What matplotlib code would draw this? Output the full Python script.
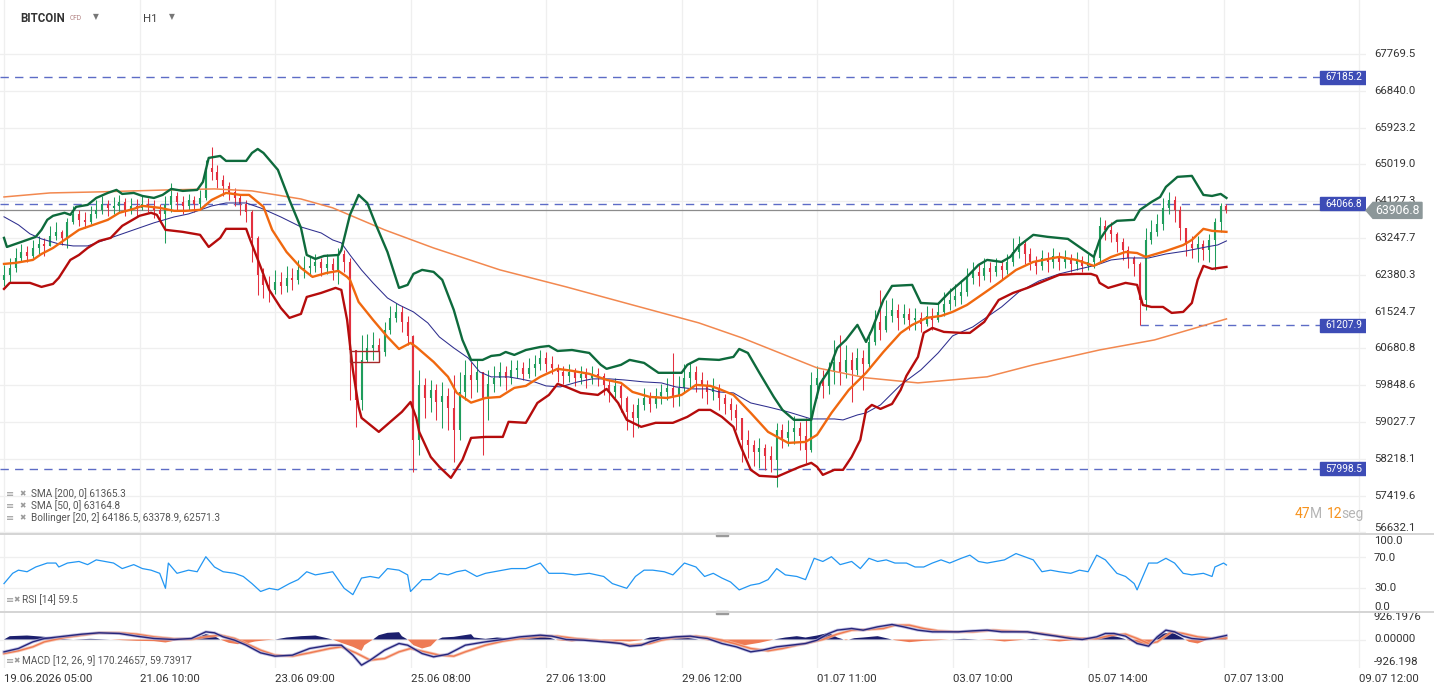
import numpy as np
import matplotlib
matplotlib.use("Agg")
import matplotlib.pyplot as plt
from matplotlib.patches import Rectangle, Polygon
from matplotlib.lines import Line2D
from matplotlib.transforms import IdentityTransform, blended_transform_factory
from matplotlib.ticker import NullLocator

plt.rcParams['font.family'] = ['Roboto', 'DejaVu Sans']

# ---------------- data (hourly bars, candles every 2 bars) ----------------
open_first = 62260
close = [62377, 62541, 62776, 62918, 62823, 63012, 63107, 63060, 63297, 63392,
         63250, 63630, 63821, 63678, 63630, 63821, 63917, 64061, 63965, 64013,
         64109, 63917, 64013, 63965, 64061, 64013, 63917, 63821, 64037, 64254,
         64109, 64013, 64157, 64061, 64205, 64932, 64834, 64640, 64495, 64350,
         64205, 64061, 63869, 63250, 62377, 62143, 62027, 62213, 62120, 62307,
         62260, 62494, 62541, 62588, 62682, 62541, 62635, 62494, 62870, 62682,
         60646, 59519, 60419, 60692, 60760, 60601, 61103, 61379, 61518, 61287,
         60966, 58633, 59855, 59564, 59743, 59474, 59609, 59341, 58853, 59698,
         60081, 59968, 60148, 59564, 59878, 60013, 60148, 60013, 60193, 60238,
         60103, 60238, 60329, 60464, 60329, 60238, 60148, 60058, 60148, 60013,
         60103, 60013, 60103, 60058, 59856, 59698, 59833, 59564, 59252, 59118,
         59408, 59564, 59430, 59609, 59698, 59788, 59609, 59788, 60013, 60148,
         59968, 59833, 59698, 59788, 59564, 59430, 59296, 59118, 58633, 58523,
         58369, 58457, 58282, 58195, 58853, 58677, 58809, 58897, 58721, 58413,
         59856, 60013, 59833, 60148, 60374, 60148, 60419, 60193, 60464, 60329,
         60828, 61287, 61103, 61425, 61564, 61379, 61472, 61333, 61379, 61241,
         61425, 61333, 61518, 61703, 61795, 61888, 61981, 62307, 62447, 62354,
         62541, 62447, 62588, 62494, 62682, 62918, 63107, 62870, 62682, 62588,
         62776, 62682, 62823, 62682, 62776, 62635, 62729, 62588, 62682, 62776,
         63535, 63440, 63345, 63155, 62965, 62776, 62635, 61795, 63202, 63392,
         63583, 63965, 64157, 63917, 63488, 63107, 63012, 63107, 62965, 63202,
         63630, 64013, 63906.8]
high = [62611, 62776, 63012, 63107, 63060, 63202, 63297, 63250, 63535, 63630,
        63440, 63726, 64013, 63917, 63869, 64013, 64157, 64254, 64157, 64229,
        64278, 64205, 64205, 64181, 64254, 64205, 64157, 64061, 64254, 64567,
        64350, 64254, 64302, 64254, 64398, 65127, 65446, 65005, 64762, 64592,
        64446, 64278, 64157, 63917, 63297, 62541, 62354, 62494, 62447, 62588,
        62541, 62729, 62823, 62823, 62870, 62776, 62870, 62776, 63012, 62965,
        62776, 60646, 60988, 61011, 61057, 60920, 61287, 61656, 61726, 61656,
        61425, 60988, 60193, 60013, 59968, 59878, 59923, 59788, 60081, 60148,
        60419, 60374, 60419, 60013, 60193, 60283, 60374, 60283, 60419, 60419,
        60374, 60464, 60532, 60646, 60601, 60510, 60329, 60283, 60329, 60238,
        60283, 60238, 60283, 60238, 60126, 59968, 60013, 59878, 59609, 59430,
        59564, 59788, 59698, 59788, 59878, 60013, 60578, 60058, 60329, 60374,
        60283, 60148, 59968, 60013, 59878, 59653, 59564, 59430, 59074, 58853,
        58633, 58677, 58545, 58501, 59008, 58986, 59074, 59163, 59030, 59118,
        60148, 60283, 60193, 60374, 60874, 60988, 60760, 60601, 60692, 60646,
        61057, 61564, 62027, 61795, 61841, 61703, 61703, 61610, 61610, 61518,
        61656, 61610, 61749, 61981, 62074, 62167, 62260, 62541, 62682, 62635,
        62776, 62682, 62776, 62729, 62870, 63250, 63297, 63202, 63012, 62823,
        62965, 62918, 63012, 62918, 62965, 62870, 62918, 62823, 62870, 62965,
        63750, 63678, 63630, 63392, 63250, 63060, 62823, 62682, 63488, 63678,
        63821, 64205, 64350, 64254, 64013, 63440, 63297, 63297, 63202, 63345,
        63726, 64085, 64061]
low = [62120, 62190, 62447, 62682, 62682, 62776, 62870, 62823, 63060, 63202,
       63084, 63012, 63583, 63535, 63488, 63583, 63726, 63821, 63774, 63821,
       63869, 63774, 63821, 63774, 63917, 63869, 63726, 63630, 63131, 63869,
       63917, 63821, 63917, 63869, 63965, 64157, 64640, 64446, 64254, 64157,
       64013, 63798, 63630, 62682, 61911, 61841, 61749, 61934, 61934, 61981,
       62027, 62167, 62307, 62354, 62447, 62354, 62400, 62260, 62167, 62447,
       59519, 58919, 59296, 60374, 60419, 60374, 60510, 61011, 61287, 61057,
       60760, 57934, 58304, 59118, 59252, 59074, 58897, 58853, 58151, 58633,
       59519, 59564, 59698, 58304, 59074, 59698, 59833, 59743, 59878, 60013,
       59968, 60013, 60058, 60193, 60148, 60103, 59923, 59878, 59923, 59833,
       59878, 59788, 59878, 59833, 59631, 59474, 59564, 59252, 58853, 58699,
       58897, 59296, 59252, 59341, 59430, 59519, 59363, 59386, 59698, 59788,
       59698, 59564, 59430, 59519, 59296, 59207, 59074, 58853, 58151, 58239,
       58064, 58021, 57977, 57934, 57609, 58457, 58501, 58545, 58413, 58130,
       58369, 59564, 59564, 59653, 59878, 59856, 60013, 59474, 60081, 59743,
       60238, 60760, 60874, 61057, 61287, 61103, 61241, 61103, 61103, 61057,
       61195, 61103, 61287, 61425, 61564, 61656, 61703, 61888, 62167, 62120,
       62260, 62213, 62354, 62260, 62400, 62588, 62776, 62635, 62494, 62400,
       62494, 62447, 62541, 62494, 62541, 62447, 62494, 62447, 62494, 62541,
       62682, 63202, 63155, 62918, 62729, 62541, 62354, 61208, 61564, 63107,
       63297, 63440, 63821, 63630, 63202, 62823, 62776, 62682, 62729, 62682,
       62494, 63392, 63845]

bbu_bar = [0, 1, 6, 11, 13, 15, 17, 21, 23, 25, 29, 32, 36, 39, 41, 45, 48, 52, 55, 58, 62, 67, 69, 71, 75, 77, 84, 86, 88, 90,
           95, 99, 103, 105, 108, 111, 116, 117, 120, 123, 126, 129, 133, 137, 140, 142, 145, 149, 152, 156, 159, 162, 166, 169,
           172, 174, 177, 181, 186, 189, 192, 197, 203, 207, 209, 214, 217, 222, 227, 230, 235, 237, 241, 248, 253, 255, 258, 262,
           267, 270, 274, 280, 281, 283, 286, 289, 292, 296, 299, 301, 305, 308, 315, 318, 324, 328, 334, 338, 341, 346, 349, 352,
           357, 362, 369, 373, 378, 380, 383, 386, 392, 394, 398, 401, 403, 407, 412, 416, 419, 422, 424]
bbu_val = [63251, 63036, 63155, 63275, 63442, 63681, 63777, 63849, 63801, 63992, 64039, 64206, 64327, 64400, 64303, 64327, 64254,
           64206, 64279, 64424, 64376, 64400, 64594, 65178, 65226, 65105, 65105, 65299, 65397, 65299, 64886, 64157, 63490, 62847,
           62753, 62824, 62847, 62964, 63801, 64279, 64085, 63561, 62917, 62075, 62145, 62402, 62496, 62449, 62262, 61564, 60875,
           60420, 60420, 60510, 60533, 60600, 60533, 60645, 60714, 60737, 60623, 60645, 60578, 60308, 60218, 60308, 60420, 60352,
           60128, 60128, 60128, 60308, 60443, 60420, 60488, 60668, 60578, 60128, 59586, 59297, 59076, 59076, 59363, 59878, 60173,
           60691, 60875, 61219, 60829, 61104, 61795, 62121, 62145, 61725, 61703, 61981, 62332, 62613, 62730, 62683, 62800, 63060,
           63323, 63275, 63227, 63036, 62800, 63203, 63514, 63657, 63681, 63918, 64109, 64230, 64472, 64716, 64740, 64279, 64254,
           64303, 64206]

bbm_bar = [0, 4, 10, 13, 17, 22, 26, 31, 36, 40, 45, 48, 54, 59, 63, 68, 72, 77, 82, 85, 90, 93, 98, 103, 107, 112, 116, 119, 120,
           123, 128, 133, 137, 141, 143, 149, 154, 157, 162, 167, 172, 177, 181, 186, 192, 197, 203, 209, 214, 218, 224, 230, 235,
           240, 245, 248, 253, 259, 265, 272, 278, 282, 287, 293, 299, 305, 311, 315, 320, 325, 329, 334, 340, 345, 351, 357, 364,
           366, 372, 378, 384, 389, 393, 396, 403, 409, 412, 416, 419, 424]
bbm_val = [62636, 62660, 62730, 62870, 63012, 63251, 63442, 63561, 63681, 63849, 63944, 64016, 63968, 63896, 63896, 63920, 64157,
           64327, 64279, 64279, 63992, 63442, 62917, 62543, 62332, 62426, 62472, 62332, 62262, 61748, 61334, 60944, 60668, 60806,
           60714, 60375, 60038, 59680, 59459, 59563, 59586, 59789, 59834, 60038, 60218, 60173, 60105, 59969, 59901, 59698, 59586,
           59563, 59631, 59856, 59833, 59766, 59631, 59230, 58810, 58567, 58589, 58744, 59230, 59743, 60128, 60600, 61036, 61219,
           61380, 61426, 61518, 61679, 61957, 62192, 62494, 62683, 62777, 62800, 62729, 62590, 62800, 62917, 62893, 62800, 62940,
           63081, 63203, 63466, 63418, 63394]

bbl_bar = [0, 2, 9, 13, 17, 19, 23, 26, 29, 33, 37, 41, 47, 51, 53, 56, 62, 68, 71, 75, 77, 84, 85, 89, 92, 96, 99, 103, 105, 110,
           115, 117, 119, 121, 123, 124, 130, 134, 138, 141, 143, 144, 148, 151, 155, 159, 162, 167, 173, 175, 181, 185, 189, 192,
           195, 200, 206, 209, 213, 216, 221, 226, 232, 237, 241, 245, 249, 253, 255, 259, 262, 268, 272, 276, 280, 282, 284, 288,
           291, 294, 297, 299, 301, 304, 308, 311, 313, 317, 319, 322, 326, 332, 335, 340, 345, 350, 355, 360, 366, 372, 377, 379,
           380, 383, 389, 393, 395, 398, 402, 405, 409, 412, 414, 416, 419, 424]
bbl_val = [62051, 62192, 62192, 62098, 62168, 62309, 62730, 62847, 63012, 63179, 63251, 63537, 63777, 63849, 63801, 63442, 63394,
           63323, 63036, 63251, 63466, 63466, 63275, 62566, 62028, 61610, 61380, 61472, 61864, 61958, 62075, 62028, 61334, 60195,
           59363, 59120, 58810, 59032, 59253, 59474, 59120, 58810, 58260, 58043, 57804, 58195, 58677, 58699, 58699, 59032, 59010,
           59452, 59631, 59878, 59811, 59676, 59631, 59766, 59452, 59076, 58921, 59010, 59010, 59142, 59297, 59297, 59142, 58921,
           58567, 57978, 57848, 57826, 57935, 58043, 58130, 58043, 57869, 57978, 57978, 58260, 58633, 59297, 59408, 59319, 59430,
           59743, 60060, 60488, 61036, 61150, 61058, 61036, 61036, 61288, 61794, 61958, 62075, 62215, 62379, 62402, 62402, 62356,
           62192, 62075, 62192, 62145, 61679, 61633, 61633, 61495, 61518, 61725, 62262, 62590, 62519, 62566]

sma50_bar = [0, 5, 9, 13, 19, 24, 29, 33, 39, 45, 52, 59, 64, 68, 72, 77, 84, 89, 96, 103, 110, 114, 117, 120, 124, 128, 133, 137,
             142, 147, 151, 156, 161, 165, 169, 175, 179, 184, 188, 193, 199, 204, 210, 215, 222, 228, 233, 239, 244, 248, 253,
             259, 265, 272, 280, 288, 291, 296, 299, 304, 311, 318, 324, 329, 336, 343, 346, 352, 359, 366, 373, 379, 384, 390,
             397, 403, 410, 417, 421, 424]
sma50_val = [63753, 63561, 63347, 63227, 63108, 63060, 63060, 63155, 63299, 63442, 63609, 63750, 63822, 63917, 64013, 64085,
             64085, 63965, 63750, 63511, 63368, 63202, 63131, 62847, 62494, 62190, 61841, 61680, 61518, 61264, 60943, 60692,
             60464, 60148, 60036, 60036, 59991, 59923, 59833, 59811, 59923, 59991, 59991, 59968, 59923, 59901, 59811, 59766,
             59766, 59698, 59676, 59452, 59363, 59252, 59096, 59096, 59074, 59185, 59230, 59408, 59856, 60193, 60578, 60966,
             61172, 61495, 61633, 61981, 62237, 62402, 62517, 62611, 62729, 62776, 62776, 62870, 62941, 63036, 63084, 63179]

sma200_bar = [0, 16, 33, 57, 73, 86, 103, 114, 132, 149, 172, 195, 218, 241, 256, 282, 299, 317, 341, 357, 380, 399, 424]
sma200_val = [64230, 64327, 64352, 64400, 64424, 64376, 64181, 63968, 63442, 63012, 62496, 62098, 61679, 61265, 60921, 60240,
              60015, 59901, 60038, 60308, 60646, 60874, 61357]

rsi_bar = [0, 3, 5, 8, 11, 15, 18, 19, 22, 26, 29, 32, 35, 38, 41, 45, 48, 51, 54, 56, 57, 60, 64, 67, 70, 73, 76, 80, 83, 86,
           89, 92, 95, 99, 102, 105, 108, 111, 114, 118, 121, 124, 127, 130, 133, 137, 140, 141, 145, 148, 151, 154, 157, 160,
           164, 167, 170, 173, 176, 181, 186, 189, 194, 198, 203, 208, 211, 216, 219, 222, 225, 229, 232, 236, 240, 243, 246,
           249, 252, 255, 259, 262, 265, 268, 271, 275, 278, 281, 284, 287, 290, 294, 297, 300, 303, 306, 309, 313, 316, 319,
           322, 325, 328, 332, 335, 338, 341, 344, 347, 351, 354, 357, 360, 363, 366, 370, 373, 376, 379, 382, 386, 389, 392,
           393, 397, 400, 403, 406, 409, 412, 416, 419, 420, 423, 424]
rsi_val = [36, 49, 53, 51, 57, 62, 62, 57, 62, 64, 60, 66, 64, 62, 55, 60, 55, 53, 49, 30, 62, 49, 53, 51, 70, 57, 51, 49, 45, 36,
           26, 30, 28, 36, 41, 51, 47, 49, 51, 30, 22, 43, 45, 43, 55, 53, 47, 26, 41, 41, 49, 47, 51, 53, 45, 49, 51, 53, 55, 55,
           62, 49, 49, 47, 49, 45, 36, 30, 45, 53, 53, 51, 47, 62, 57, 45, 49, 43, 38, 28, 34, 36, 41, 55, 47, 45, 41, 68, 64, 70,
           60, 64, 55, 68, 64, 66, 62, 62, 57, 57, 62, 66, 62, 68, 72, 64, 62, 64, 66, 74, 70, 66, 51, 53, 51, 49, 53, 51, 72, 66,
           49, 45, 36, 28, 62, 62, 68, 62, 49, 47, 49, 45, 57, 62, 59.5]

macd_bar = [0, 5, 10, 14, 21, 27, 33, 40, 46, 52, 59, 65, 70, 73, 76, 80, 84, 89, 94, 100, 106, 113, 117, 121, 124, 127, 132, 137,
            140, 145, 149, 154, 160, 167, 173, 179, 186, 190, 195, 201, 208, 214, 217, 221, 224, 228, 233, 238, 241, 244, 249,
            254, 259, 263, 268, 273, 278, 282, 286, 289, 294, 298, 303, 308, 312, 317, 322, 327, 331, 336, 341, 346, 351, 355,
            360, 365, 370, 374, 379, 382, 385, 389, 393, 397, 400, 403, 406, 409, 412, 416, 419, 424]
macd_val = [-518, -378, -98, 42, 140, 224, 280, 252, 140, 42, 0, 42, 322, 280, 112, -28, -238, -560, -700, -658, -378, -238, -238,
            -658, -1078, -868, -448, -168, -238, -588, -728, -616, -238, -98, 0, 112, 182, 140, 0, -28, -98, -168, -280, -238,
            -98, 42, 112, 140, 84, 42, -168, -308, -518, -448, -308, -238, -168, -28, 252, 392, 462, 392, 532, 630, 532, 392,
            322, 322, 322, 364, 392, 322, 322, 322, 224, 140, 42, 0, 112, 252, 252, 140, -168, -280, 112, 392, 322, 140, 42, 0,
            42, 170.24657]

signal_bar = [0, 5, 10, 14, 21, 27, 33, 40, 46, 52, 59, 65, 70, 75, 80, 84, 89, 94, 100, 106, 113, 117, 122, 127, 132, 137, 141,
              146, 151, 156, 160, 167, 173, 179, 186, 192, 198, 205, 211, 217, 224, 228, 233, 240, 244, 249, 254, 259, 265, 270,
              275, 279, 284, 289, 294, 300, 305, 309, 314, 319, 324, 330, 336, 343, 347, 354, 360, 366, 373, 379, 384, 389, 393,
              397, 400, 405, 409, 414, 419, 424]
signal_val = [-588, -476, -308, -98, 84, 182, 280, 280, 224, 112, 28, 14, 112, 182, 42, -168, -448, -658, -700, -560, -378, -308,
              -560, -868, -798, -518, -378, -518, -658, -700, -518, -238, -70, 42, 140, 140, 42, -28, -98, -238, -168, -28, 84,
              140, 84, -28, -196, -378, -476, -378, -238, -140, 0, 224, 392, 420, 462, 602, 602, 462, 364, 322, 322, 392, 364,
              322, 252, 140, 42, 42, 182, 224, 42, -168, -98, 322, 252, 112, 42, 59.73917]

hist_bar = [0, 2, 8, 14, 19, 24, 30, 37, 41, 46, 52, 56, 59, 62, 67, 70, 73, 75, 78, 81, 84, 87, 91, 94, 98, 103, 108, 111, 114,
            117, 121, 124, 125, 128, 130, 133, 137, 138, 140, 142, 145, 148, 150, 152, 156, 159, 162, 163, 167, 171, 176, 181,
            186, 189, 192, 197, 201, 206, 211, 217, 221, 224, 227, 232, 236, 241, 246, 252, 257, 262, 267, 271, 275, 278, 282,
            286, 289, 292, 295, 298, 303, 306, 309, 314, 319, 324, 328, 333, 338, 343, 347, 352, 357, 362, 366, 371, 376, 381,
            384, 387, 390, 393, 397, 399, 401, 405, 408, 411, 414, 417, 420, 424]
hist_val = [0, 140, 168, 112, 28, 0, 28, 0, -28, -56, -70, -126, -56, 0, 84, 224, 140, 0, -140, -196, -168, -84, -28, 0, 84,
            140, 168, 84, 0, -140, -308, -476, -238, 0, 182, 280, 308, 140, 0, -238, -378, -280, -28, 84, 112, 168, 224, 84,
            28, 84, 42, 84, 140, 84, -28, -84, -28, 0, -56, -84, -28, 84, 112, 56, 84, 0, -56, -168, -238, -140, 0, 84, 140,
            84, 168, 280, 84, -28, 56, 84, 140, 56, -28, -112, -56, -28, 0, 28, 0, -28, -84, -28, 28, -28, -84, -28, -28, 84,
            168, 84, -28, -168, -238, -28, 224, 308, 112, -98, -168, -28, 42, 110]

price_ticks = [67769.5, 66840.0, 65923.2, 65019.0, 64127.3, 63247.7, 62380.3, 61524.7, 60680.8, 59848.6, 59027.7,
               58218.1, 57419.6, 56632.1]
time_grid_bar = [0, 47, 94, 141, 188, 235, 282, 329, 376, 423, 470]
time_labels = ['19.06.2026 05:00', '21.06 10:00', '23.06 09:00', '25.06 08:00', '27.06 13:00', '29.06 12:00',
               '01.07 11:00', '03.07 10:00', '05.07 14:00', '07.07 13:00', '09.07 12:00']
level_values = [67185.2, 64066.8, 61207.9, 57998.5]
level_start_bar = [None, None, 394, None]
last_price = 63906.8
box_bars = [120, 130.1]
box_prices = [60374, 60623]

legend_lines = ['SMA [200, 0] 61365.3', 'SMA [50, 0] 63164.8', 'Bollinger [20, 2] 64186.5, 63378.9, 62571.3']

# ---------------- figure ----------------
W, H = 1434, 694
fig = plt.figure(figsize=(W / 100, H / 100), dpi=100)
fig.patch.set_facecolor('white')


def box(x0, y0, x1, y1):
    return [x0 / W, 1 - y1 / H, (x1 - x0) / W, (y1 - y0) / H]


ax = fig.add_axes(box(0, 0, 1366, 533))
ax_r = fig.add_axes(box(0, 535, 1366, 611), sharex=ax)
ax_m = fig.add_axes(box(0, 613, 1366, 668), sharex=ax)

XMIN, XMAX = -1.39, 472.4
GRID = '#efefef'
for a in (ax, ax_r, ax_m):
    for s in a.spines.values():
        s.set_visible(False)
    a.set_facecolor('white')
    a.set_axisbelow(True)
    a.tick_params(length=0, labelleft=False, labelbottom=False)
ax_m.set_xticks(time_grid_bar, labels=time_labels)
ax.set_xlim(XMIN, XMAX)
for a in (ax, ax_r, ax_m):
    a.grid(True, axis='x', color=GRID, lw=0.9)

# ---------------- main price panel ----------------
ax.set_yscale('log')
ax.set_ylim(56620, 69157)
ax.set_yticks(price_ticks)
ax.yaxis.set_minor_locator(NullLocator())
ax.grid(True, axis='y', color=GRID, lw=0.9)

close_a = np.array(close, dtype=float)
t = np.arange(len(close_a)) * 2
open_a = np.r_[open_first, close_a[:-1]]
high_a = np.maximum(np.array(high, float), np.maximum(open_a, close_a))
low_a = np.minimum(np.array(low, float), np.minimum(open_a, close_a))
GREEN, RED = '#1f9d5c', '#e3303f'
cols = np.where(close_a >= open_a, GREEN, RED)
ax.vlines(t, low_a, high_a, colors=cols, lw=0.75, zorder=2)
ax.vlines(t, np.minimum(open_a, close_a), np.maximum(open_a, close_a), colors=cols, lw=1.5, zorder=2)

# levels
BLUE_D = '#5d6cc6'
for v, sb in zip(level_values, level_start_bar):
    x0 = XMIN if sb is None else sb
    ax.hlines(v, x0, XMAX, colors=BLUE_D, lw=1.0, linestyles=(0, (6, 4.5)), zorder=1.5)
ax.axhline(last_price, color='#8c8c8c', lw=0.9, zorder=1.6)

# indicators
ax.plot(sma200_bar, sma200_val, color='#f2884f', lw=1.1, zorder=3)
ax.plot(sma50_bar, sma50_val, color='#2e2e8e', lw=0.75, zorder=3)
ax.plot(bbu_bar, bbu_val, color='#0e6a3c', lw=1.7, zorder=3.2, solid_joinstyle='round')
ax.plot(bbm_bar, bbm_val, color='#f0680f', lw=1.7, zorder=3.2, solid_joinstyle='round')
ax.plot(bbl_bar, bbl_val, color='#b50c0c', lw=1.7, zorder=3.2, solid_joinstyle='round')

ax.add_patch(Rectangle((box_bars[0], box_prices[0]), box_bars[1] - box_bars[0], box_prices[1] - box_prices[0],
                       fill=False, ec='#a52a2a', lw=1.0, zorder=3.5))

# right-hand price labels
tm = blended_transform_factory(ax.transAxes, ax.transData)
XL = 1374 / 1366
for v in price_ticks[:-1]:
    ax.text(XL, v, f'{v:.1f}', transform=tm, ha='left', va='center', fontsize=8.2, color='#333333', clip_on=False)
ax.text(XL, 5 / 533, f'{price_ticks[-1]:.1f}', transform=ax.transAxes, ha='left', va='center', fontsize=8.2,
        color='#333333', clip_on=False)

# level tags
for v in level_values:
    yp = ax.transData.transform((0, v))[1]
    ax.add_patch(Rectangle((1320, yp - 6.5), 46, 13, transform=IdentityTransform(), color='#3d4cb6', zorder=6,
                           clip_on=True))
    ax.text(1325, yp, f'{v:.1f}', transform=IdentityTransform(), color='white', fontsize=7.3, ha='left',
            va='center', zorder=7, clip_on=True)

yp = ax.transData.transform((0, last_price))[1]
fig.add_artist(Polygon([(1366, yp), (1373, yp + 8), (1422, yp + 8), (1422, yp - 8), (1373, yp - 8)],
                       closed=True, transform=IdentityTransform(), color='#8c9799', zorder=10))
fig.text(1397, yp, f'{last_price:.1f}', transform=IdentityTransform(), color='white', fontsize=8.8,
         ha='center', va='center', zorder=11)


def icons(y):
    fig.text(6 / W, 1 - y / H, '≡', fontsize=7, color='#9a9a9a', va='center', ha='left', family=['DejaVu Sans'])
    fig.text(13.5 / W, 1 - y / H, '✖', fontsize=5.5, color='#9a9a9a', va='center', ha='left', family=['DejaVu Sans'])


# legend texts
for i, s in enumerate(legend_lines):
    yy = 494 + 12 * i
    fig.text(6 / W, 1 - yy / H, '≡', fontsize=7, color='#9a9a9a', va='center', ha='left', family=['DejaVu Sans'])
    fig.text(19 / W, 1 - yy / H, '✖', fontsize=5.5, color='#9a9a9a', va='center', ha='left', family=['DejaVu Sans'])
    fig.text(31 / W, 1 - yy / H, s, fontsize=7.2, color='#555555', va='center', ha='left')

# countdown
for x, s, c in [(1295, '47', '#f7931e'), (1309.5, 'M', '#b5b5b5'), (1327, '12', '#f7931e'), (1341, 'seg', '#b5b5b5')]:
    fig.text(x / W, 1 - 514 / H, s, fontsize=10, color=c, va='center', ha='left')

# header
fig.text(20 / W, 1 - 18 / H, 'BITCOIN', fontsize=8.3, fontweight='bold', color='#333333', va='center', ha='left')
fig.text(70 / W, 1 - 18.5 / H, 'CFD', fontsize=4.8, color='#b08080', va='center', ha='left')
fig.text(93 / W, 1 - 17 / H, '▼', fontsize=5.5, color='#777777', va='center', ha='left', family=['DejaVu Sans'])
fig.text(143 / W, 1 - 19 / H, 'H1', fontsize=8.2, color='#444444', va='center', ha='left')
fig.text(169 / W, 1 - 17 / H, '▼', fontsize=5.5, color='#777777', va='center', ha='left', family=['DejaVu Sans'])

# ---------------- RSI panel ----------------
ax_r.set_ylim(1.3, 97.5)
ax_r.set_yticks([30, 70])
ax_r.grid(True, axis='y', color=GRID, lw=0.9)
ax_r.plot(rsi_bar, rsi_val, color='#2196f3', lw=0.9)
tr = blended_transform_factory(ax_r.transAxes, ax_r.transData)
ax_r.text(XL, (611 - 541) / 76, '100.0', transform=ax_r.transAxes, ha='left', va='center', fontsize=8.2,
          color='#333333', clip_on=False)
ax_r.text(XL, 69, '70.0', transform=tr, ha='left', va='center', fontsize=8.2, color='#333333', clip_on=False)
ax_r.text(XL, 30, '30.0', transform=tr, ha='left', va='center', fontsize=8.2, color='#333333', clip_on=False)
ax_r.text(XL, (611 - 607) / 76, '0.0', transform=ax_r.transAxes, ha='left', va='center', fontsize=8.2,
          color='#333333', clip_on=False)
icons(600)
fig.text(22 / W, 1 - 600 / H, 'RSI [14] 59.5', fontsize=7.2, color='#555555', va='center', ha='left')

# ---------------- MACD panel ----------------
ax_m.set_ylim(-1197, 1113)
ax_m.set_yticks([0])
ax_m.grid(True, axis='y', color=GRID, lw=0.9)
hb = np.array(hist_bar, float)
hv = np.array(hist_val, float)
ax_m.fill_between(hb, 0, hv, where=hv >= 0, interpolate=True, color='#1c1f6e', lw=0)
ax_m.fill_between(hb, 0, hv, where=hv <= 0, interpolate=True, color='#ee7b55', lw=0)
ax_m.plot(signal_bar, signal_val, color='#f6b9a2', lw=2.2, alpha=0.8)
ax_m.plot(signal_bar, signal_val, color='#ef7a52', lw=1.0)
ax_m.plot(macd_bar, macd_val, color='#a7a7d6', lw=2.2, alpha=0.7)
ax_m.plot(macd_bar, macd_val, color='#26267c', lw=1.0)
tmm = blended_transform_factory(ax_m.transAxes, ax_m.transData)
for v, s in [(926.1976, '926.1976'), (0, '0.00000'), (-926.198, '-926.198')]:
    ax_m.text(XL, v, s, transform=tmm, ha='left', va='center', fontsize=8.2, color='#333333', clip_on=False)
icons(661)
fig.text(22 / W, 1 - 661 / H, 'MACD [12, 26, 9] 170.24657, 59.73917', fontsize=7.2, color='#555555', va='center',
         ha='left')

ax_m.tick_params(labelbottom=True, pad=4, labelsize=8.2, labelcolor='#333333')
for lbl in ax_m.get_xticklabels():
    lbl.set_ha('left')

# panel separators
for ysep in (534, 612):
    fig.add_artist(Line2D([0, 1], [1 - ysep / H] * 2, transform=fig.transFigure, color='#d4d4d4', lw=1.4))
    fig.add_artist(Rectangle((716 / W, 1 - (ysep + 1.5) / H), 12 / W, 3 / H, transform=fig.transFigure,
                             color='#9a9a9a'))

fig.savefig('out.png', dpi=100, facecolor='white')
